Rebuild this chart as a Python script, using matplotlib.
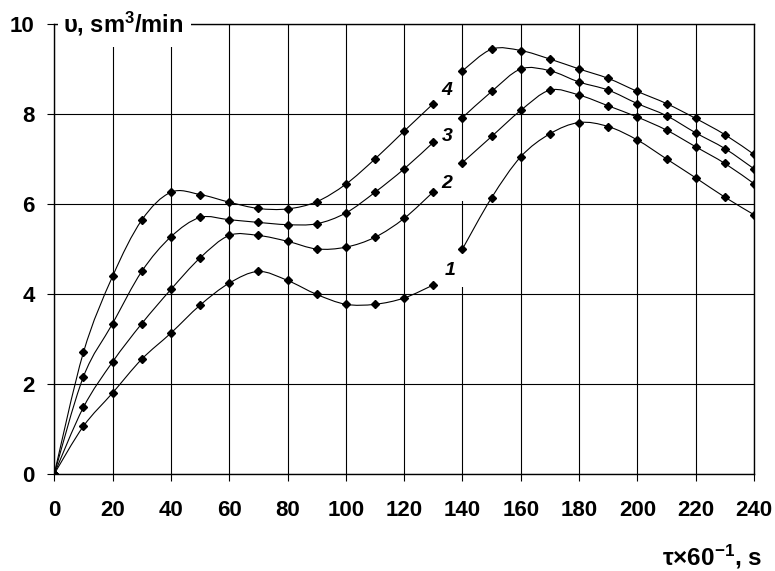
import matplotlib
matplotlib.use('Agg')
import numpy as np
import matplotlib.pyplot as plt
from matplotlib.path import Path
from matplotlib.patches import PathPatch, Rectangle

plt.rcParams['font.family'] = ['Liberation Sans', 'DejaVu Sans']
plt.rcParams['font.weight'] = 'bold'
plt.rcParams['mathtext.fontset'] = 'custom'
plt.rcParams['mathtext.bf'] = 'Liberation Sans:bold'
plt.rcParams['mathtext.rm'] = 'Liberation Sans:bold'
plt.rcParams['mathtext.default'] = 'bf'

# time, tau x 60^-1 (s); the curves are broken between 130 and 140
x_left = [0, 10, 20, 30, 40, 50, 60, 70, 80, 90, 100, 110, 120, 130]
x_right = [140, 150, 160, 170, 180, 190, 200, 210, 220, 230, 240]

# flow rate, sm3/min
c1_left = [0, 1.06, 1.80, 2.55, 3.13, 3.75, 4.24, 4.50, 4.30, 3.99, 3.77, 3.77, 3.91, 4.20]
c1_right = [5.00, 6.14, 7.05, 7.56, 7.81, 7.72, 7.42, 7.00, 6.58, 6.15, 5.76]
c2_left = [0, 1.48, 2.49, 3.34, 4.10, 4.80, 5.30, 5.30, 5.17, 5.00, 5.04, 5.26, 5.68, 6.27]
c2_right = [6.92, 7.50, 8.08, 8.53, 8.42, 8.18, 7.93, 7.64, 7.27, 6.90, 6.45]
c3_left = [0, 2.16, 3.34, 4.50, 5.27, 5.70, 5.65, 5.59, 5.54, 5.56, 5.80, 6.26, 6.78, 7.37]
c3_right = [7.92, 8.50, 9.00, 8.96, 8.71, 8.53, 8.23, 7.96, 7.58, 7.23, 6.78]
c4_left = [0, 2.70, 4.39, 5.64, 6.26, 6.21, 6.04, 5.90, 5.89, 6.05, 6.44, 7.00, 7.62, 8.23]
c4_right = [8.96, 9.44, 9.41, 9.22, 9.00, 8.79, 8.50, 8.23, 7.90, 7.54, 7.10]

curve_labels = ['1', '2', '3', '4']
label_pos = [(135.7, 4.52), (134.7, 6.46), (134.7, 7.51), (134.7, 8.53)]


def smooth_path(xs, ys):
    # excel-like smoothed line: cubic bezier through every point
    p = np.column_stack([xs, ys]).astype(float)
    pp = np.vstack([p[0], p, p[-1]])
    verts = [p[0]]
    codes = [Path.MOVETO]
    for i in range(1, len(pp) - 2):
        c1 = pp[i] + (pp[i + 1] - pp[i - 1]) / 6.0
        c2 = pp[i + 1] - (pp[i + 2] - pp[i]) / 6.0
        verts += [c1, c2, pp[i + 1]]
        codes += [Path.CURVE4] * 3
    return Path(verts, codes)


fig = plt.figure(figsize=(7.75, 5.71), dpi=100)
ax = fig.add_axes([0.070, 0.170, 0.903, 0.788])

ax.set_xlim(0, 240)
ax.set_ylim(0, 10)
ax.set_xticks(np.arange(0, 241, 20))
ax.set_yticks(np.arange(0, 11, 2))
ax.set_axisbelow(True)
ax.grid(True, color='black', lw=0.8)
ax.tick_params(direction='out', length=5, width=0.8, labelsize=16, colors='black')
ax.tick_params(axis='x', pad=14)
ax.tick_params(axis='y', pad=9)
for sp in ax.spines.values():
    sp.set_linewidth(1.0)

# white gaps in the 140 grid line next to labels 1 and 2
ax.add_patch(Rectangle((138.5, 6.07), 3, 0.78, fc='white', ec='none', zorder=1))
ax.add_patch(Rectangle((138.5, 4.15), 3, 0.78, fc='white', ec='none', zorder=1))

left = [c1_left, c2_left, c3_left, c4_left]
right = [c1_right, c2_right, c3_right, c4_right]
for yl, yr in zip(left, right):
    for xs, ys in [(x_left, yl), (x_right, yr)]:
        ax.add_patch(PathPatch(smooth_path(xs, ys), fc='none', ec='black', lw=0.8, zorder=2))
        ax.plot(xs, ys, ls='none', marker='D', ms=4.2, color='black', zorder=3)

for lab, (lx, ly) in zip(curve_labels, label_pos):
    ax.text(lx, ly, lab, fontsize=14, fontweight='bold', style='italic',
            ha='center', va='center', zorder=4)

# y-axis title sits on top of the frame
ax.add_patch(Rectangle((0.005, 0.949), 0.19, 0.1, transform=ax.transAxes,
                       fc='white', ec='none', zorder=3, clip_on=False))
ax.text(0.013, 1.0, 'υ, sm$^{3}$/min', transform=ax.transAxes, fontsize=17,
        fontweight='bold', ha='left', va='center', zorder=4)

fig.text(0.983, 0.025, 'τ×60$^{-1}$, s', fontsize=17.5, fontweight='bold',
         ha='right', va='center')

plt.savefig('out.png', dpi=100)
